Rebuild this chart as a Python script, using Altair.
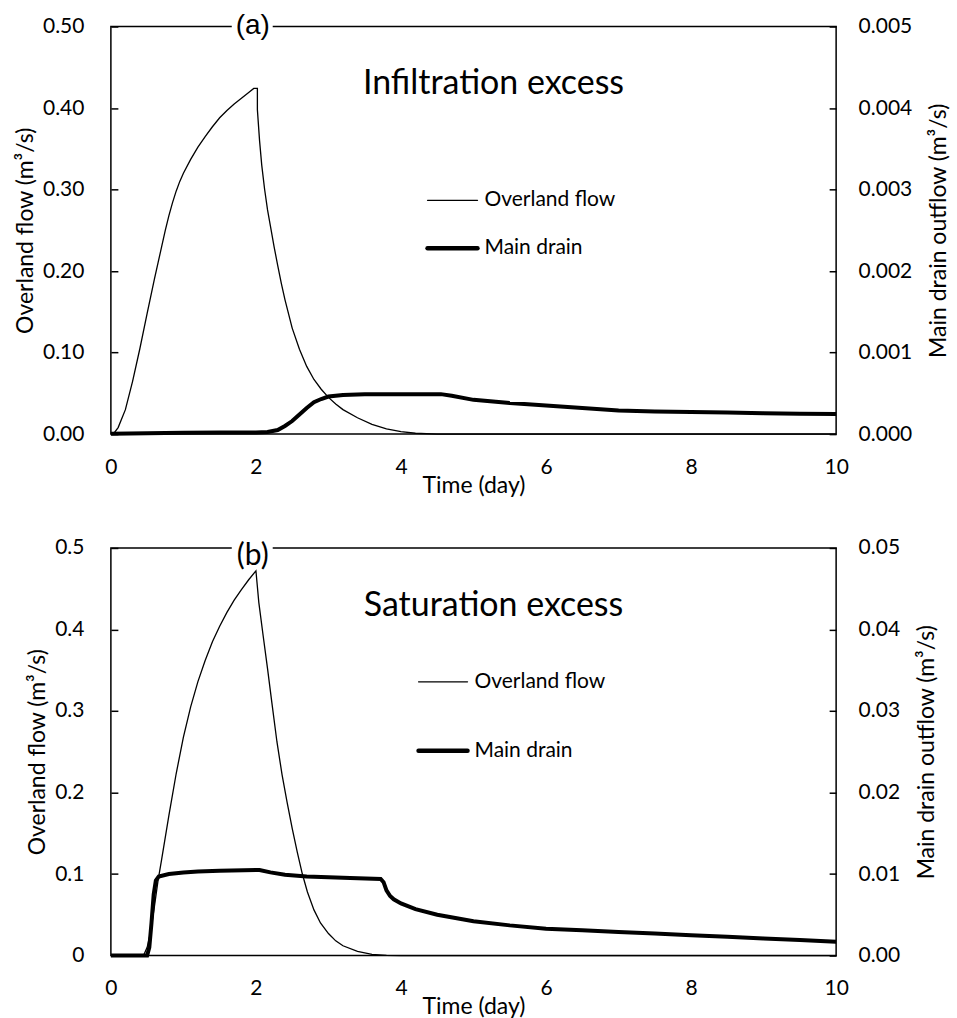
import altair as alt
import pandas as pd

FONT = "Lato"

# ---------------- data ----------------
x_ticks = [0, 2, 4, 6, 8, 10]
left_ticks = [0, 0.1, 0.2, 0.3, 0.4, 0.5]
right_ticks_a = [0, 0.001, 0.002, 0.003, 0.004, 0.005]
right_ticks_b = [0, 0.01, 0.02, 0.03, 0.04, 0.05]

series_names = ["Overland flow", "Main drain"]
panel_tags = ["(a)", "(b)"]
panel_titles = ["Infiltration excess", "Saturation excess"]
x_title = "Time (day)"
left_title = "Overland flow (m³/s)"
right_title = "Main drain outflow (m³/s)"

# panel (a) - infiltration excess
a_over_t = [0, 0.05, 0.1, 0.2, 0.3, 0.4, 0.5, 0.6, 0.65, 0.7, 0.75, 0.8, 0.85, 0.9, 0.95,
            1.0, 1.1, 1.2, 1.3, 1.4, 1.5, 1.6, 1.7, 1.8, 1.9, 1.97, 2.02, 2.02, 2.05,
            2.08, 2.12, 2.16, 2.2, 2.25, 2.3, 2.35, 2.4, 2.5, 2.6, 2.7, 2.8, 2.9, 3.0,
            3.1, 3.2, 3.4, 3.6, 3.8, 4.0, 4.2, 4.5, 10]
a_over_q = [0, 0.002, 0.008, 0.03, 0.065, 0.105, 0.148, 0.19, 0.21, 0.23, 0.25, 0.268,
            0.284, 0.298, 0.31, 0.32, 0.337, 0.352, 0.365, 0.377, 0.388, 0.397, 0.405,
            0.412, 0.419, 0.424, 0.424, 0.398, 0.36, 0.33, 0.30, 0.275, 0.255, 0.23,
            0.207, 0.185, 0.165, 0.13, 0.104, 0.083, 0.067, 0.055, 0.045, 0.037, 0.03,
            0.02, 0.012, 0.0065, 0.003, 0.001, 0, 0]
a_drain_t = [0, 0.5, 1.0, 1.5, 2.0, 2.16, 2.3, 2.4, 2.5, 2.6, 2.7, 2.8, 2.9, 3.0, 3.2,
             3.5, 4.0, 4.55, 4.7, 5.0, 5.5, 6.0, 6.5, 7.0, 7.5, 8.0, 8.5, 9.0, 9.5, 10.0]
a_drain_q = [0.000005, 0.00001, 0.000015, 0.000018, 0.00002, 0.000025, 0.00005, 0.0001,
             0.00016, 0.00024, 0.00032, 0.00039, 0.00043, 0.00046, 0.00048, 0.00049,
             0.00049, 0.00049, 0.00047, 0.00042, 0.00038, 0.00035, 0.00032, 0.00029,
             0.000278, 0.000272, 0.000264, 0.000257, 0.00025, 0.000245]

# panel (b) - saturation excess
b_over_t = [0, 0.45, 0.5, 0.55, 0.6, 0.65, 0.7, 0.8, 0.9, 1.0, 1.1, 1.2, 1.3, 1.4, 1.5,
            1.6, 1.7, 1.8, 1.9, 2.0, 2.04, 2.1, 2.16, 2.22, 2.29, 2.36, 2.43, 2.5, 2.57,
            2.64, 2.71, 2.8, 2.89, 3.0, 3.1, 3.2, 3.4, 3.6, 3.8, 4.0, 10]
b_over_q = [0, 0, 0.01, 0.03, 0.06, 0.092, 0.118, 0.172, 0.223, 0.268, 0.305, 0.336,
            0.362, 0.385, 0.404, 0.421, 0.436, 0.449, 0.461, 0.472, 0.433, 0.392, 0.352,
            0.31, 0.262, 0.222, 0.188, 0.156, 0.127, 0.1, 0.078, 0.056, 0.04, 0.027,
            0.018, 0.012, 0.005, 0.0015, 0.0003, 0, 0]
b_drain_t = [0, 0.5, 0.53, 0.56, 0.59, 0.62, 0.66, 0.8, 1.0, 1.2, 1.5, 2.0, 2.05, 2.2,
             2.4, 2.7, 3.0, 3.3, 3.72, 3.76, 3.8, 3.85, 3.9, 4.0, 4.2, 4.5, 5.0, 5.5, 6.0,
             6.5, 7.0, 7.5, 8.0, 8.5, 9.0, 9.5, 10.0]
b_drain_q = [0, 0, 0.001, 0.004, 0.0075, 0.0092, 0.0097, 0.01, 0.0102, 0.0103, 0.0104,
             0.0105, 0.0105, 0.0102, 0.0099, 0.0097, 0.0096, 0.0095, 0.0094, 0.009, 0.008,
             0.0073, 0.0069, 0.0064, 0.0057, 0.005, 0.0042, 0.0037, 0.0033, 0.0031, 0.0029,
             0.0027, 0.0025, 0.0023, 0.0021, 0.0019, 0.0017]

W, H = 726, 408
LABEL_SIZE = 21
TITLE_SIZE = 23


def series_df(t, q):
    return pd.DataFrame({"t": t, "q": q, "i": list(range(len(t)))})


def make_panel(over_t, over_q, drain_t, drain_q, right_ticks, left_fmt, right_fmt,
               tag, tag_font, tag_size, tag_dy, title, leg):
    xscale = alt.Scale(domain=[0, 10], nice=False, zero=False)
    xaxis = alt.Axis(values=x_ticks, format="d", ticks=False, domain=False, grid=False,
                     labelFlush=False, labelFont=FONT, labelFontSize=LABEL_SIZE,
                     labelColor="black", labelPadding=22, title=x_title,
                     titleFont=FONT, titleFontSize=TITLE_SIZE, titleFontWeight="normal",
                     titleColor="black", titlePadding=-3)
    left_axis = alt.Axis(orient="left", values=left_ticks, format=left_fmt, offset=-7,
                         domain=False, ticks=True, tickSize=7, tickWidth=1.5,
                         tickColor="black", grid=False, labelFlush=False,
                         labelFont=FONT, labelFontSize=LABEL_SIZE, labelColor="black",
                         labelPadding=27, title=left_title, titleFont=FONT,
                         titleFontSize=TITLE_SIZE, titleFontWeight="normal",
                         titleColor="black", titlePadding=5)
    right_axis = alt.Axis(orient="right", values=right_ticks, format=right_fmt, offset=-7,
                          domain=False, ticks=True, tickSize=7, tickWidth=1.5,
                          tickColor="black", grid=False, labelFlush=False,
                          labelFont=FONT, labelFontSize=LABEL_SIZE, labelColor="black",
                          labelPadding=22, title=right_title, titleFont=FONT,
                          titleFontSize=TITLE_SIZE, titleFontWeight="normal",
                          titleColor="black", titleAngle=270, titleBaseline="top",
                          titlePadding=16)

    over = alt.Chart(series_df(over_t, over_q)).mark_line(
        color="black", strokeWidth=1.3).encode(
        x=alt.X("t:Q", scale=xscale, axis=xaxis),
        y=alt.Y("q:Q", scale=alt.Scale(domain=[0, 0.5], nice=False), axis=left_axis),
        order=alt.Order("i:Q"))
    drain = alt.Chart(series_df(drain_t, drain_q)).mark_line(
        color="black", strokeWidth=4).encode(
        x=alt.X("t:Q", scale=xscale, axis=xaxis),
        y=alt.Y("q:Q", scale=alt.Scale(domain=[0, right_ticks[-1]], nice=False),
                axis=right_axis),
        order=alt.Order("i:Q"))

    layers = [over, drain]

    # panel title (inside plot)
    layers.append(alt.Chart(pd.DataFrame({"label": [title]})).mark_text(
        align="center", baseline="middle", font=FONT, fontSize=34, color="black").encode(
        x=alt.value(383), y=alt.value(58), text="label:N"))

    # legend
    x0, x1, y0, y1 = leg
    for name, yy, sw in [(series_names[0], y0, 1.3), (series_names[1], y1, 4.5)]:
        d = pd.DataFrame({"label": [name]})
        layers.append(alt.Chart(d).mark_rule(color="black", strokeWidth=sw,
                                             strokeCap="round").encode(
            x=alt.value(x0), x2=alt.value(x1), y=alt.value(yy)))
        layers.append(alt.Chart(d).mark_text(
            align="left", baseline="middle", font=FONT, fontSize=LABEL_SIZE,
            color="black").encode(x=alt.value(x1 + 7), y=alt.value(yy), text="label:N"))

    # panel tag on the top border
    tdf = pd.DataFrame({"label": [tag]})
    layers.append(alt.Chart(tdf).mark_rect(color="white").encode(
        x=alt.value(121), x2=alt.value(162), y=alt.value(-3), y2=alt.value(3)))
    layers.append(alt.Chart(tdf).mark_text(
        align="center", baseline="middle", font=tag_font, fontSize=tag_size,
        color="black").encode(x=alt.value(142), y=alt.value(tag_dy), text="label:N"))

    return alt.layer(*layers).resolve_scale(y="independent").properties(width=W, height=H)


panel_a = make_panel(a_over_t, a_over_q, a_drain_t, a_drain_q, right_ticks_a, ".2f", ".3f",
                     panel_tags[0], "Liberation Sans", 28, 0, panel_titles[0],
                     (317, 367, 174, 222))
panel_b = make_panel(b_over_t, b_over_q, b_drain_t, b_drain_q, right_ticks_b, ".1~f", ".2f",
                     panel_tags[1], FONT, 30, 8, panel_titles[1],
                     (308, 357, 134, 203))

chart = alt.vconcat(panel_a, panel_b, spacing=38).properties(
    padding={"left": 13, "top": 11, "right": 5, "bottom": 5},
    background="white",
).configure_view(stroke="black", strokeWidth=1.5)

chart.save("out.html", embed_options={"renderer": "svg", "actions": False})
